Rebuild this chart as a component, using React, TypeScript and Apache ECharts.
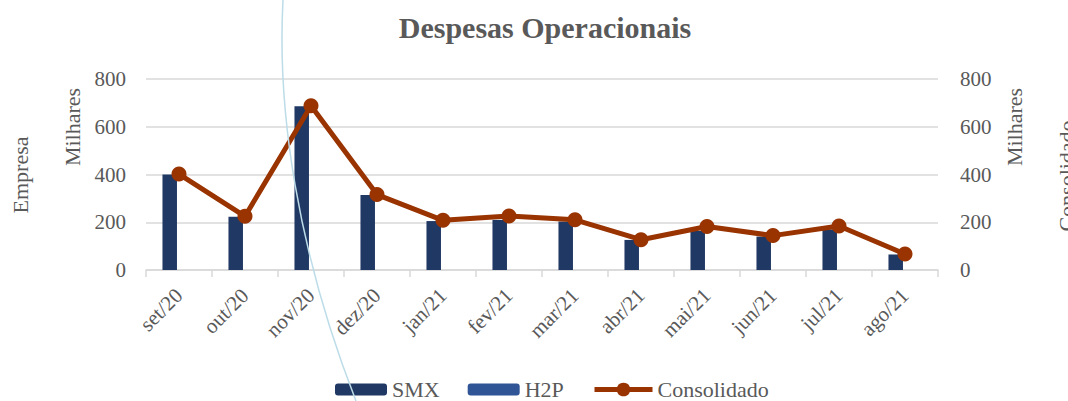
import React, { useEffect, useRef } from "react";
import * as echarts from "echarts";

const categories = ["set/20", "out/20", "nov/20", "dez/20", "jan/21", "fev/21", "mar/21", "abr/21", "mai/21", "jun/21", "jul/21", "ago/21"];
const smxValues = [400, 223, 686, 314, 205, 210, 203, 126, 164, 140, 170, 65];
const h2pValues = [0, 0, 0, 0, 0, 0, 0, 0, 0, 0, 0, 0];
const consolidadoValues = [402, 225, 688, 316, 208, 226, 210, 127, 182, 144, 184, 67];
const yTicks = { min: 0, max: 800, interval: 200 };

const FONT = "'Liberation Serif', 'Times New Roman', serif";
const TEXT = "#595959";
const GRID = "#d9d9d9";

export default function App() {
  const ref = useRef<HTMLDivElement>(null);
  useEffect(() => {
    if (!ref.current) return;
    const chart = echarts.init(ref.current, undefined, { renderer: "svg" });
    const sideText = (text: string, x: number, y: number) => ({
      type: "text",
      x,
      y,
      rotation: Math.PI / 2,
      style: { text, fill: TEXT, font: `22px ${FONT}`, align: "center", verticalAlign: "middle" },
    });
    const legendText = { fontFamily: FONT, fontSize: 22, lineHeight: 18, color: TEXT };
    chart.setOption({
      animation: false,
      backgroundColor: "#ffffff",
      title: {
        text: "Despesas Operacionais",
        left: 540,
        top: 7,
        textAlign: "center",
        textStyle: { fontFamily: FONT, fontWeight: "bold", fontSize: 30, color: TEXT },
      },
      legend: [
        {
          data: ["SMX", "H2P"],
          left: 330,
          top: 373.5,
          itemWidth: 52,
          itemHeight: 12,
          itemGap: 28,
          textStyle: legendText,
        },
        {
          data: ["Consolidado"],
          left: 587,
          top: 373.5,
          itemWidth: 58,
          itemHeight: 17,
          lineStyle: { width: 5 },
          textStyle: legendText,
        },
      ],
      grid: { left: 146, right: 130, top: 79, bottom: 131, containLabel: false },
      xAxis: {
        type: "category",
        data: categories,
        boundaryGap: true,
        axisLine: { lineStyle: { color: GRID, width: 1.5 } },
        axisTick: { show: true, length: 7, lineStyle: { color: GRID, width: 1.5 } },
        axisLabel: { rotate: 45, margin: 22, fontFamily: FONT, fontSize: 21, color: TEXT, interval: 0 },
      },
      yAxis: [
        {
          type: "value",
          min: yTicks.min,
          max: yTicks.max,
          interval: yTicks.interval,
          axisLine: { show: false },
          axisTick: { show: false },
          splitLine: { lineStyle: { color: GRID, width: 1.5 } },
          axisLabel: { margin: 20, fontFamily: FONT, fontSize: 21, color: TEXT },
        },
        {
          type: "value",
          position: "right",
          min: yTicks.min,
          max: yTicks.max,
          interval: yTicks.interval,
          axisLine: { show: false },
          axisTick: { show: false },
          splitLine: { show: false },
          axisLabel: { margin: 22, fontFamily: FONT, fontSize: 21, color: TEXT },
        },
      ],
      series: [
        {
          name: "SMX",
          type: "bar",
          data: smxValues,
          yAxisIndex: 0,
          barWidth: 14.5,
          barGap: "28%",
          itemStyle: { color: "#203864" },
        },
        {
          name: "H2P",
          type: "bar",
          data: h2pValues,
          yAxisIndex: 0,
          barWidth: 14.5,
          itemStyle: { color: "#2F5597" },
        },
        {
          name: "Consolidado",
          type: "line",
          data: consolidadoValues,
          yAxisIndex: 1,
          symbol: "circle",
          symbolSize: 15,
          lineStyle: { color: "#993300", width: 5 },
          itemStyle: { color: "#993300" },
          z: 5,
        },
      ],
      graphic: [
        sideText("Empresa", 20, 175),
        sideText("Milhares", 72, 127),
        sideText("Milhares", 1014, 127),
        sideText("Consolidado", 1066, 176),
        {
          type: "bezierCurve",
          z: 100,
          silent: true,
          shape: { x1: 283, y1: 0, cpx1: 277, cpy1: 110, cpx2: 297, cpy2: 250, x2: 356, y2: 401 },
          style: { stroke: "#bcdce8", lineWidth: 1.5, fill: null },
        },
      ],
    });
    return () => chart.dispose();
  }, []);
  return (
    <div
      ref={ref}
      style={{ position: "absolute", left: 0, top: 0, width: 1068, height: 401, background: "#fff" }}
    />
  );
}
